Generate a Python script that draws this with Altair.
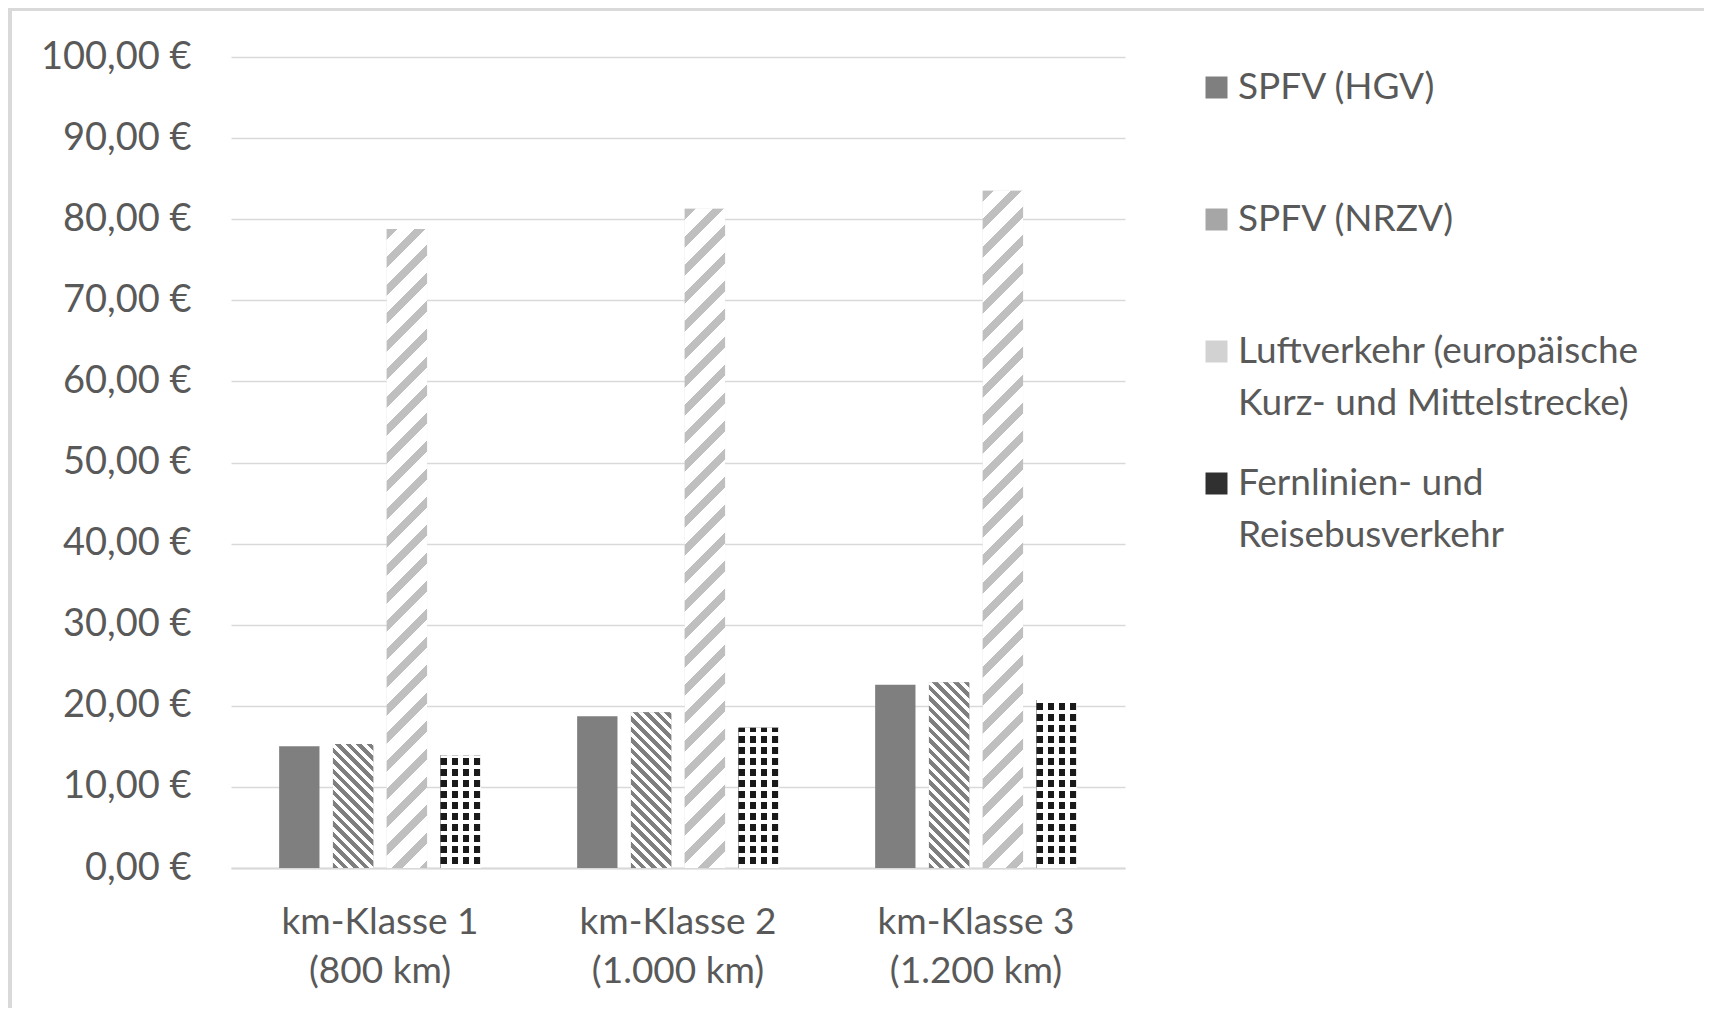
import altair as alt
import pandas as pd

# ---------------- data ----------------
categories = ["km-Klasse 1\n(800 km)", "km-Klasse 2\n(1.000 km)", "km-Klasse 3\n(1.200 km)"]
series = [
    "SPFV (HGV)",
    "SPFV (NRZV)",
    "Luftverkehr (europäische\nKurz- und Mittelstrecke)",
    "Fernlinien- und\nReisebusverkehr",
]
hgv = [15.0, 18.7, 22.6]
nrzv = [15.3, 19.2, 22.9]
luft = [78.8, 81.3, 83.5]
bus = [13.9, 17.3, 20.7]
y_ticks = [0, 10, 20, 30, 40, 50, 60, 70, 80, 90, 100]

values = [hgv, nrzv, luft, bus]
rows = []
for si, (s, vals) in enumerate(zip(series, values)):
    for ci, (c, v) in enumerate(zip(categories, vals)):
        rows.append({"cat": c, "series": s, "value": v, "si": si, "ci": ci})
df = pd.DataFrame(rows)

# ---------------- layout / style ----------------
PLOT_W, PLOT_H = 894, 811
PAD = {"left": 223, "top": 49, "right": 579, "bottom": 140}
X_PI, X_PO = 0.278, 0.139
O_PI, O_PO = 0.25, 0.125
TEXT = "#595959"
GRID = "#d9d9d9"
FONT = "Lato"
legend_fill = ["#7f7f7f", "#a6a6a6", "#d2d2d2", "#303030"]

x_step = PLOT_W / (len(categories) - X_PI + 2 * X_PO)
x_bw = x_step * (1 - X_PI)
o_step = x_bw / (len(series) - O_PI + 2 * O_PO)
bar_w = o_step * (1 - O_PI)


def stripe_stops(on, off, period, frac, length):
    stops = []
    k = 0
    while k * period < length:
        a = k * period / length
        b = min((k * period + frac * period) / length, 1.0)
        c = min((k + 1) * period / length, 1.0)
        stops += [(a, on), (b, on), (b, off), (c, off)]
        k += 1
    return [{"offset": round(o, 5), "color": col} for o, col in stops]


def diag_gradient(w, h, up, on, off, period, frac):
    s = (1 / h + 1 / w) / (1 / h ** 2 + 1 / w ** 2)
    if up:
        x1, y1, x2, y2 = 0, 0, s / h, s / w
    else:
        x1, y1, x2, y2 = 0, 1, s / h, 1 - s / w
    return {"gradient": "linear", "x1": x1, "y1": y1, "x2": x2, "y2": y2,
            "stops": stripe_stops(on, off, period, frac, w + h)}


def straight_gradient(length, vertical_stripes, on, off, period, frac):
    if vertical_stripes:
        x1, y1, x2, y2 = 0, 0, 1, 0
    else:
        x1, y1, x2, y2 = 0, 1, 0, 0
    return {"gradient": "linear", "x1": x1, "y1": y1, "x2": x2, "y2": y2,
            "stops": stripe_stops(on, off, period, frac, length)}


enc = dict(
    x=alt.X("cat:N", sort=categories,
            scale=alt.Scale(domain=categories, paddingInner=X_PI, paddingOuter=X_PO),
            axis=alt.Axis(title=None, labelAngle=0, labelExpr="split(datum.label, '\\n')",
                          labelFont=FONT, labelFontSize=37, labelColor=TEXT, labelLimit=500,
                          labelLineHeight=49, labelPadding=36, ticks=False,
                          domainColor=GRID, domainWidth=2, grid=False)),
    xOffset=alt.XOffset("series:N", sort=series,
                        scale=alt.Scale(domain=series, paddingInner=O_PI, paddingOuter=O_PO)),
    y=alt.Y("value:Q", scale=alt.Scale(domain=[0, 100], nice=False),
            axis=alt.Axis(title=None, values=y_ticks, domain=False, ticks=False,
                          labelExpr="replace(format(datum.value, '.2f'), '.', ',') + ' €'",
                          labelFont=FONT, labelFontSize=38, labelColor=TEXT,
                          labelPadding=40, gridColor=GRID, gridWidth=1.5)),
)

base = alt.Chart(df)

bars = base.mark_bar().encode(
    **enc,
    color=alt.Color("series:N", sort=series,
                    scale=alt.Scale(domain=series, range=legend_fill),
                    legend=alt.Legend(
                        title=None, orient="none", legendX=967, legendY=12,
                        direction="vertical",
                        labelExpr="split(indexof(datum.label, '\\n') < 0 ? datum.label + '\\n ' : datum.label, '\\n')",
                        labelFont=FONT, labelFontSize=37, labelColor=TEXT,
                        labelLimit=700, labelOffset=3,
                        symbolType="square", symbolSize=484, symbolStrokeWidth=0,
                        symbolOpacity=1, padding=0,
                    )),
)

layers = [bars]
for ci in range(len(categories)):
    # NRZV: dark diagonal "\" hatch
    h = nrzv[ci] / 100 * PLOT_H
    layers.append(base.transform_filter((alt.datum.si == 1) & (alt.datum.ci == ci)).mark_bar(
        fill=diag_gradient(bar_w, h, False, "#7f7f7f", "#ffffff", 10.5, 0.5)).encode(**enc))
    # Luftverkehr: light wide "/" hatch
    h = luft[ci] / 100 * PLOT_H
    layers.append(base.transform_filter((alt.datum.si == 2) & (alt.datum.ci == ci)).mark_bar(
        fill=diag_gradient(bar_w, h, True, "#bfbfbf", "#ffffff", 28, 0.38)).encode(**enc))
    # Bus: black squares
    h = bus[ci] / 100 * PLOT_H
    layers.append(base.transform_filter((alt.datum.si == 3) & (alt.datum.ci == ci)).mark_bar(
        fill=straight_gradient(bar_w, True, "#1a1a1a", "#ffffff", 11, 0.6)).encode(**enc))
    layers.append(base.transform_filter((alt.datum.si == 3) & (alt.datum.ci == ci)).mark_bar(
        fill=straight_gradient(h, False, "#ffffff", "rgba(255,255,255,0)", 11, 0.4)).encode(**enc))

# outer frame (top and left edges of the chart border)
frame_top = base.mark_rule(color=GRID, strokeWidth=3).encode(
    x=alt.value(-PAD["left"]), x2=alt.value(PLOT_W + PAD["right"]), y=alt.value(-PAD["top"] + 1))
frame_left = base.mark_rule(color=GRID, strokeWidth=4).encode(
    x=alt.value(-PAD["left"] + 2), y=alt.value(-PAD["top"]), y2=alt.value(PLOT_H + PAD["bottom"]))
layers += [frame_top, frame_left]

chart = (
    alt.layer(*layers)
    .properties(
        width=PLOT_W, height=PLOT_H,
        autosize=alt.AutoSizeParams(type="none"),
        padding=PAD,
        background="white",
    )
    .configure(style={"guide-label": {"lineHeight": 52}})
    .configure_view(stroke=None)
    .configure_legend(rowPadding=42, symbolOpacity=1)
)

chart.save("out.html", embed_options={"renderer": "svg", "actions": False})
